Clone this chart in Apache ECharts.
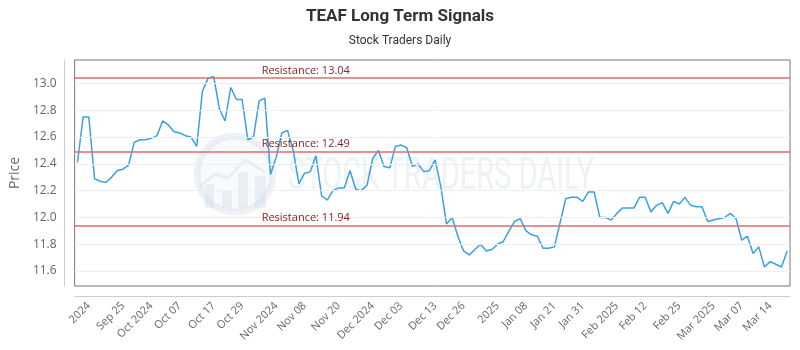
<!DOCTYPE html>
<html><head><meta charset="utf-8">
<script src="https://cdn.jsdelivr.net/npm/echarts@6/dist/echarts.min.js"></script>
<style>html,body{margin:0;padding:0;background:#fff}#c{width:800px;height:350px}</style>
</head><body><div id="c"></div>
<script>
const prices = [
  12.41, 12.75, 12.75, 12.29, 12.27, 12.26, 12.30, 12.35, 12.36, 12.39,
  12.56, 12.58, 12.58, 12.59, 12.61, 12.72, 12.69, 12.64, 12.63, 12.61,
  12.60, 12.53, 12.94, 13.04, 13.05, 12.81, 12.72, 12.97, 12.88, 12.88,
  12.58, 12.60, 12.87, 12.89, 12.32, 12.45, 12.63, 12.65, 12.50, 12.25,
  12.33, 12.34, 12.46, 12.16, 12.13, 12.20, 12.22, 12.22, 12.35, 12.21,
  12.20, 12.24, 12.44, 12.50, 12.38, 12.37, 12.53, 12.54, 12.52, 12.38,
  12.40, 12.34, 12.35, 12.43, 12.23, 11.95, 12.00, 11.86, 11.75, 11.72,
  11.76, 11.80, 11.75, 11.76, 11.80, 11.82, 11.90, 11.97, 11.99, 11.90,
  11.87, 11.86, 11.77, 11.77, 11.78, 11.96, 12.14, 12.15, 12.15, 12.12,
  12.19, 12.19, 12.00, 12.00, 11.98, 12.03, 12.07, 12.07, 12.07, 12.15,
  12.15, 12.04, 12.09, 12.11, 12.03, 12.12, 12.10, 12.15, 12.09, 12.08,
  12.08, 11.97, 11.98, 11.99, 12.00, 12.03, 11.99, 11.83, 11.86, 11.73,
  11.78, 11.63, 11.67, 11.65, 11.63, 11.75
];
const tickIndex  = [2, 8, 13, 18, 24, 29, 35, 40, 46, 52, 57, 63, 68, 74, 79, 84, 89, 95, 100, 106, 112, 117, 122];
const tickLabels = ['2024', 'Sep 25', 'Oct 2024', 'Oct 07', 'Oct 17', 'Oct 29', 'Nov 2024', 'Nov 08', 'Nov 20',
  'Dec 2024', 'Dec 03', 'Dec 13', 'Dec 26', '2025', 'Jan 08', 'Jan 21', 'Jan 31', 'Feb 2025', 'Feb 12',
  'Feb 25', 'Mar 2025', 'Mar 07', 'Mar 14'];
const yTicks = [11.6, 11.8, 12.0, 12.2, 12.4, 12.6, 12.8, 13.0];
const resistance = [13.04, 12.49, 11.94];

const categories = prices.map((_, i) => String(i));
const labelMap = {};
tickIndex.forEach((ix, k) => { labelMap[ix] = tickLabels[k]; });

const chart = echarts.init(document.getElementById('c'), null, {renderer: 'canvas'});
const wm = 'rgba(195,210,225,0.28)';
chart.setOption({
  animation: false,
  backgroundColor: '#fff',
  title: {
    text: 'TEAF Long Term Signals',
    subtext: 'Stock Traders Daily',
    left: 'center',
    top: 3,
    itemGap: 10,
    textStyle: {fontFamily: 'Roboto', fontWeight: 'bold', fontSize: 17, color: '#333'},
    subtextStyle: {fontFamily: 'Roboto', fontSize: 12, color: '#333'}
  },
  graphic: [
    {type: 'circle', z: 0, shape: {cx: 235, cy: 174, r: 38}, style: {fill: 'rgba(225,232,240,0.2)', stroke: wm, lineWidth: 7}},
    {type: 'rect', z: 0, shape: {x: 205, y: 184, width: 9, height: 24}, style: {fill: wm}},
    {type: 'rect', z: 0, shape: {x: 222, y: 190, width: 10, height: 18}, style: {fill: wm}},
    {type: 'rect', z: 0, shape: {x: 238, y: 172, width: 10, height: 36}, style: {fill: wm}},
    {type: 'rect', z: 0, shape: {x: 255, y: 176, width: 11, height: 32}, style: {fill: wm}},
    {type: 'polyline', z: 0, shape: {points: [[200, 186], [215, 174], [228, 178], [245, 160], [265, 172]]}, style: {stroke: wm, lineWidth: 3, fill: null}},
    {type: 'text', z: 0, x: 288, y: 156, scaleX: 0.66,
      style: {text: 'STOCK TRADERS DAILY', font: '44px Roboto', fill: 'rgba(222,230,238,0.5)', textVerticalAlign: 'top'}}
  ],
  grid: {left: 70, right: 10, top: 60, bottom: 64, show: true, borderColor: '#777', borderWidth: 1, backgroundColor: 'transparent'},
  xAxis: {
    type: 'category',
    data: categories,
    boundaryGap: true,
    offset: 10,
    axisLine: {show: true, lineStyle: {color: '#ccc'}},
    axisTick: {show: false},
    splitLine: {show: false},
    axisLabel: {
      interval: 0, rotate: 45, margin: 8, fontFamily: 'Open Sans', fontSize: 11, color: '#666',
      formatter: (v, idx) => labelMap[idx] || ''
    }
  },
  yAxis: {
    type: 'value',
    min: 11.488,
    max: 13.175,
    offset: 10,
    name: 'Price',
    nameLocation: 'middle',
    nameGap: 39,
    nameTextStyle: {fontFamily: 'Open Sans', fontSize: 14, color: '#666'},
    axisLine: {show: true, lineStyle: {color: '#ccc'}},
    axisTick: {show: false},
    splitLine: {show: false},
    axisLabel: {customValues: yTicks, margin: 8, fontFamily: 'Open Sans', fontSize: 12, color: '#666',
      formatter: v => v.toFixed(1)}
  },
  series: [
    {
      type: 'line', data: [], z: 1, silent: true,
      markLine: {
        silent: true, symbol: 'none', animation: false,
        label: {show: false},
        lineStyle: {color: '#eeeeee', width: 1, type: 'solid'},
        data: yTicks.map(v => ({yAxis: v}))
      }
    },
    {
      type: 'line', data: [], z: 2, silent: true,
      markLine: {
        silent: true, symbol: 'none', animation: false,
        lineStyle: {color: 'rgba(222,110,110,0.75)', width: 2, type: 'solid'},
        label: {
          show: true, position: 'insideStartTop', distance: 2,
          padding: [0, 0, 0, 185],
          fontFamily: 'Open Sans', fontSize: 11, color: '#8b2323',
          formatter: p => 'Resistance: ' + p.value.toFixed(2)
        },
        data: resistance.map(v => ({yAxis: v}))
      }
    },
    {
      type: 'line', data: prices, z: 3,
      symbol: 'none', smooth: false,
      lineStyle: {color: '#3b9fe6', width: 1.5},
      itemStyle: {color: '#3b9fe6'}
    }
  ]
});
</script>
</body></html>
